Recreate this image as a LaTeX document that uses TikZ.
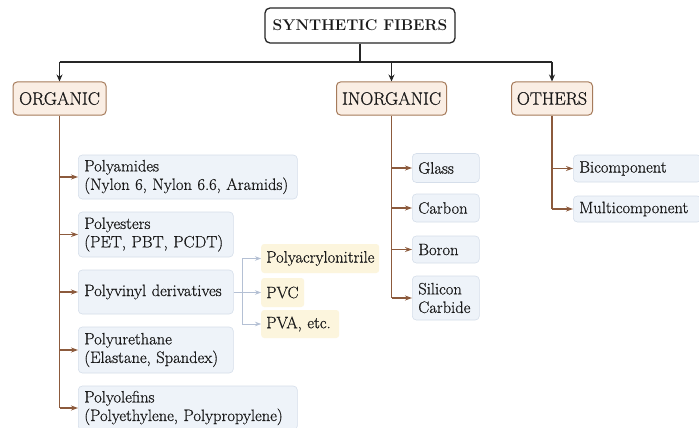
\documentclass[tikz,border=0pt]{standalone}
\usepackage{fontspec}
\setmainfont{Latin Modern Roman}[UprightFeatures={FakeBold=0.6}]
\usetikzlibrary{arrows.meta,calc}
\definecolor{headfill}{HTML}{FAEEE4}
\definecolor{headdraw}{HTML}{A67B5B}
\definecolor{childfill}{HTML}{EEF3F9}
\definecolor{childdraw}{HTML}{D5DEEA}
\definecolor{yfill}{HTML}{FCF5DD}
\definecolor{branch}{HTML}{8C5A3C}
\definecolor{subline}{HTML}{B4C0D4}
\definecolor{txt}{HTML}{1A1A1A}
\tikzset{
  titlebox/.style={draw=black!85, line width=1.3pt, rounded corners=5pt, fill=white,
    font=\fontsize{15.5}{20}\selectfont\bfseries, text=txt, inner sep=0pt},
  headbox/.style={draw=headdraw, line width=1pt, rounded corners=4pt, fill=headfill,
    font=\fontsize{18}{20}\selectfont, text=txt, inner sep=0pt, minimum height=33pt},
  childbox/.style={draw=childdraw, line width=0.6pt, rounded corners=4pt, fill=childfill,
    font=\fontsize{16.5}{18.5}\selectfont, text=txt, anchor=west, align=left,
    inner xsep=6pt, inner ysep=0pt},
  ybox/.style={fill=yfill, rounded corners=3pt, font=\fontsize{16.5}{18}\selectfont,
    text=txt, anchor=west, align=left, inner xsep=5pt, inner ysep=0pt},
  topline/.style={draw=black!85, line width=1.1pt},
  toparrow/.style={topline, -{Stealth[length=7pt,width=6pt]}},
  trunk/.style={draw=branch, line width=1.2pt},
  brarrow/.style={trunk, -{Stealth[length=7pt,width=5pt]}},
  subarrow/.style={draw=subline, line width=0.7pt, -{Stealth[length=6pt,width=4.5pt]}},
}
\begin{document}
\begin{tikzpicture}[x=1pt,y=-1pt]
\useasboundingbox (0,0) rectangle (699,428);
\fill[white] (0,0) rectangle (699,428);

% title
\node[titlebox, minimum width=190pt, minimum height=35pt] (title) at (360,25.5) {SYNTHETIC FIBERS};

% headers
\node[headbox, minimum width=93pt] (org) at (59.5,98.5) {ORGANIC};
\node[headbox, minimum width=110pt] (inorg) at (391.5,98.5) {INORGANIC};
\node[headbox, minimum width=81pt] (oth) at (552,98.5) {OTHERS};

\coordinate (hub) at (360,62);
\draw[topline] (title.south) -- (hub);
\draw[topline] (org.north |- hub) -- (oth.north |- hub);
\draw[toparrow] (org.north |- hub) -- (org.north);
\draw[toparrow] (inorg.north |- hub) -- (inorg.north);
\draw[toparrow] (oth.north |- hub) -- (oth.north);

% organic children
\node[childbox, minimum width=219pt, minimum height=44pt, text width=207pt] (pa) at (78,177)
  {Polyamides\\(Nylon 6, Nylon 6.6, Aramids)};
\node[childbox, minimum width=155pt, minimum height=45pt, text width=143pt] (pe) at (78,234.5)
  {Polyesters\\(PET, PBT, PCDT)};
\node[childbox, minimum width=155pt, minimum height=44pt, text width=143pt] (pv) at (78,292)
  {Polyvinyl derivatives};
\node[childbox, minimum width=155pt, minimum height=46pt, text width=143pt] (pu) at (78,350)
  {Polyurethane\\(Elastane, Spandex)};
\node[childbox, minimum width=219pt, minimum height=44pt, text width=207pt] (po) at (78,408)
  {Polyolefins\\(Polyethylene, Polypropylene)};

\draw[trunk] (org.south) -- (org.south |- po.west);
\foreach \n in {pa,pe,pv,pu,po}
  \draw[brarrow] (org.south |- \n.west) -- (\n.west);

% polyvinyl sub-children
\node[ybox, minimum width=118pt, minimum height=29pt, text width=108pt] (pan) at (261,258.5) {Polyacrylonitrile};
\node[ybox, minimum width=43pt, minimum height=29pt, text width=33pt] (pvc) at (261,292.5) {PVC};
\node[ybox, minimum width=78pt, minimum height=28pt, text width=68pt] (pva) at (261,324) {PVA, etc.};
\coordinate (sj) at (242,292);
\draw[draw=subline, line width=0.7pt] (pv.east) -- (sj);
\draw[draw=subline, line width=0.7pt] (sj |- pan.west) -- (sj |- pva.west);
\draw[subarrow] (sj |- pan.west) -- (pan.west);
\draw[subarrow] (sj |- pvc.west) -- (pvc.west);
\draw[subarrow] (sj |- pva.west) -- (pva.west);

% inorganic children
\node[childbox, minimum width=67pt, minimum height=29pt, text width=55pt] (gl) at (412,168) {Glass};
\node[childbox, minimum width=67pt, minimum height=28pt, text width=55pt] (cb) at (412,208) {Carbon};
\node[childbox, minimum width=67pt, minimum height=27pt, text width=55pt] (bo) at (412,249.5) {Boron};
\node[childbox, minimum width=67pt, minimum height=44pt, text width=55pt] (sc) at (412,298) {Silicon\\Carbide};
\draw[trunk] (inorg.south) -- (inorg.south |- sc.west);
\foreach \n in {gl,cb,bo,sc}
  \draw[brarrow] (inorg.south |- \n.west) -- (\n.west);

% others children
\node[childbox, minimum width=128pt, minimum height=27pt, text width=116pt] (bi) at (573,168.5) {Bicomponent};
\node[childbox, minimum width=128pt, minimum height=26pt, text width=116pt] (mu) at (573,209) {Multicomponent};
\draw[trunk] (oth.south) -- (oth.south |- mu.west);
\foreach \n in {bi,mu}
  \draw[brarrow] (oth.south |- \n.west) -- (\n.west);
\end{tikzpicture}
\end{document}
